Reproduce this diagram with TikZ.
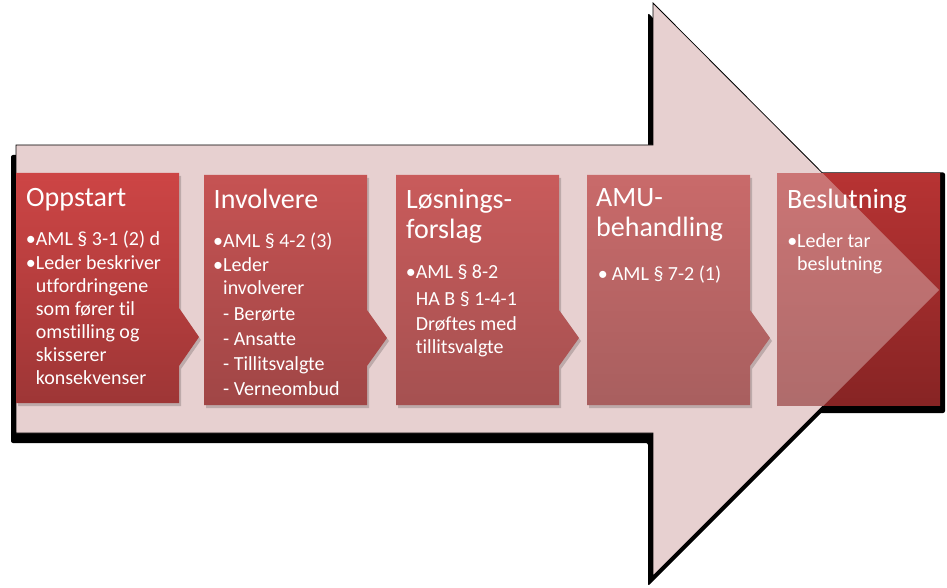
\documentclass[tikz,border=0pt]{standalone}
\usepackage{fontspec}
\setmainfont{Carlito}[Ligatures=NoCommon]
\definecolor{arrowpink}{HTML}{E7D0D0}
\definecolor{b1top}{HTML}{CD4545}
\definecolor{b1bot}{HTML}{9E3636}
\definecolor{b2top}{HTML}{C65353}
\definecolor{b2bot}{HTML}{A04646}
\definecolor{b3top}{HTML}{C95B5B}
\definecolor{b3bot}{HTML}{A55151}
\definecolor{b4top}{HTML}{C96A6A}
\definecolor{b4bot}{HTML}{A85F5F}
\definecolor{b5top}{HTML}{B73333}
\definecolor{b5bot}{HTML}{872424}
\newcommand\boxlines[1]{\begin{tabular}[t]{@{}l@{}}#1\end{tabular}}
\begin{document}
\begin{tikzpicture}[x=1pt,y=-1pt,
  ttl/.style={text=white, font=\fontsize{28}{30}\selectfont, inner sep=0pt, anchor=base west},
  bdy/.style={text=white, font=\fontsize{20}{23}\selectfont, inner sep=0pt, anchor=base west},
  boxshadow/.style={fill=black, fill opacity=0.18},
]
\useasboundingbox (0,0) rectangle (947,588);

% big arrow shadow and box 5 shadow
\fill[black, rounded corners=2pt, shift={(-5pt,-10pt)}]
  (16,145) -- (653,145) -- (653,3) -- (939,290) -- (653,576) -- (653,433) -- (16,433) -- cycle;
\fill[black, rounded corners=2pt] (778,172.5) rectangle (945,413);

% big arrow
\path[fill=arrowpink, draw=black, line width=0.8pt]
  (16,145) -- (653,145) -- (653,3) -- (939,290) -- (653,576) -- (653,433) -- (16,433) -- cycle;

% box shadows
\fill[boxshadow, shift={(2pt,-3pt)}] (16,173) -- (179,173) -- (179,308) -- (199,337) -- (179,366) -- (179,403) -- (16,403) -- cycle;
\fill[boxshadow, shift={(2pt,-3pt)}] (204,175) -- (367,175) -- (367,310) -- (387,338) -- (367,366) -- (367,405) -- (204,405) -- cycle;
\fill[boxshadow, shift={(2pt,-3pt)}] (396,175) -- (559,175) -- (559,310) -- (579,338) -- (559,366) -- (559,405) -- (396,405) -- cycle;
\fill[boxshadow, shift={(2pt,-3pt)}] (587,175) -- (750,175) -- (750,310) -- (770,338) -- (750,366) -- (750,405) -- (587,405) -- cycle;

% boxes
\path[top color=b1top, bottom color=b1bot] (16,173) -- (179,173) -- (179,308) -- (199,337) -- (179,366) -- (179,403) -- (16,403) -- cycle;
\path[top color=b2top, bottom color=b2bot] (204,175) -- (367,175) -- (367,310) -- (387,338) -- (367,366) -- (367,405) -- (204,405) -- cycle;
\path[top color=b3top, bottom color=b3bot] (396,175) -- (559,175) -- (559,310) -- (579,338) -- (559,366) -- (559,405) -- (396,405) -- cycle;
\path[top color=b4top, bottom color=b4bot] (587,175) -- (750,175) -- (750,310) -- (770,338) -- (750,366) -- (750,405) -- (587,405) -- cycle;
\path[top color=b5top, bottom color=b5bot] (777,174) rectangle (940,405);

% arrow head seen through over box 5
\begin{scope}
  \clip (777,174) rectangle (940,405);
  \fill[arrowpink, fill opacity=0.42] (653,3) -- (939,290) -- (653,576) -- cycle;
\end{scope}

% texts
\node[ttl] (t1) at (26,206) {Oppstart};
\node[bdy] (x1) at (35.7,245) {\boxlines{\llap{•}AML § 3-1 (2) d\\[1pt]
  \llap{•}Leder beskriver\\ utfordringene\\ som fører til\\ omstilling og\\ skisserer\\ konsekvenser}};

\node[ttl] (t2) at (213.5,208) {Involvere};
\node[bdy] (x2) at (223,247) {\boxlines{\llap{•}AML § 4-2 (3)\\[1pt]
  \llap{•}Leder\\ involverer\\[3pt] - Berørte\\[2pt] - Ansatte\\[2pt] - Tillitsvalgte\\[2pt] - Verneombud}};

\node[ttl] (t3) at (406,208) {\boxlines{Løsnings-\\forslag}};
\node[bdy] (x3) at (415.7,278) {\boxlines{\llap{•}AML § 8-2\\[4pt] HA B § 1-4-1\\[2pt] Drøftes med\\ tillitsvalgte}};

\node[ttl] (t4) at (596,207) {\boxlines{AMU-\\behandling}};
\node[bdy] (x4) at (611.7,280) {\llap{•\hspace{4pt}}AML § 7-2 (1)};

\node[ttl] (t5) at (787,208) {Beslutning};
\node[bdy] (x5) at (797,247) {\boxlines{\llap{•}Leder tar\\ beslutning}};
\end{tikzpicture}
\end{document}
